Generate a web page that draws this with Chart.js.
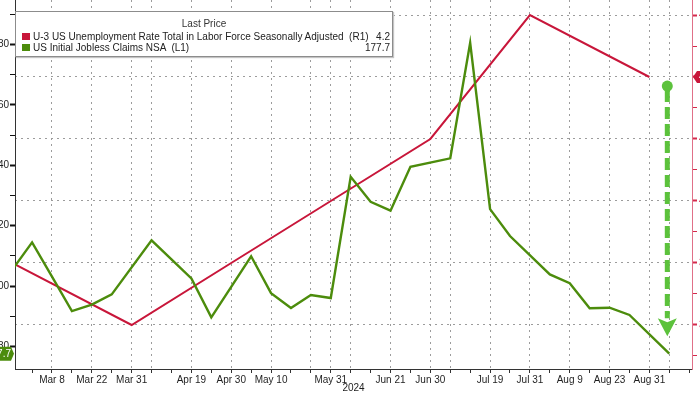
<!DOCTYPE html>
<html>
<head>
<meta charset="utf-8">
<script src="https://cdn.jsdelivr.net/npm/chart.js@4.4.1/dist/chart.umd.min.js"></script>
<style>
html,body{margin:0;padding:0;background:#fff;overflow:hidden;width:700px;height:394px;position:relative}
#c{position:absolute;left:0;top:-20px}
#leg{position:absolute;left:15px;top:11px;width:376px;height:44px;background:#fff;border:1px solid #8c8c8c;box-shadow:1px 1px 1px #c4c4c4;font-family:'Liberation Sans',Arial,sans-serif;font-size:10px;color:#222;line-height:11px}
#leg .t{position:absolute;left:0;right:0;top:6px;text-align:center;color:#333}
#leg .r{position:absolute;left:6px;right:2px;height:11px}
#leg .sq{position:absolute;left:0;top:2px;width:8px;height:7px}
#leg .n{position:absolute;left:11px;top:0;white-space:pre}
#leg .v{position:absolute;right:0;top:0}
</style>
</head>
<body>
<canvas id="c" width="700" height="414"></canvas>
<div id="leg"></div>
<script>
// ---- data ----
const categories = ['Feb 29','Mar 1','Mar 8','Mar 15','Mar 22','Mar 29','Mar 31','Apr 5','Apr 12','Apr 19','Apr 26','Apr 30','May 3','May 10','May 17','May 24','May 31','Jun 7','Jun 14','Jun 21','Jun 28','Jun 30','Jul 5','Jul 12','Jul 19','Jul 26','Jul 31','Aug 2','Aug 9','Aug 16','Aug 23','Aug 30','Aug 31','Sep 6','Sep 13'];
const labelledTicks = [2,4,6,9,11,13,16,19,21,24,26,28,30,32];
const gridTicks = [2,4,6,7,9,11,13,15,16,17,19,21,22,24,26,28,30,32,33];
const unemploymentRate = [3.9,null,null,null,null,null,3.8,null,null,null,null,3.9,null,null,null,null,4.0,null,null,null,null,4.1,null,null,null,null,4.3,null,null,null,null,null,4.2,null,null];
const joblessClaims = [205.4,214.5,203.2,191.8,193.9,197.3,null,215.2,208.9,202.6,189.7,null,209.9,197.7,192.8,197.1,196.1,236.2,227.9,225.0,239.5,null,242.3,280.5,225.5,216.6,null,203.9,201.0,192.7,192.9,190.5,null,177.7,null];
const leftTicks = [180,200,220,240,260,280];
const rightTicks = [3.8,3.9,4.0,4.1,4.2,4.3];
const seriesNames = ['U-3 US Unemployment Rate Total in Labor Force Seasonally Adjusted  (R1)','US Initial Jobless Claims NSA  (L1)'];
const lastValues = ['4.2','177.7'];
// annotation arrow (x index, from/to in claims units)
const arrowIdx = 33, arrowFrom = 266.2, arrowTo = 183.5;

const RED = '#c8163a', GREEN = '#4c8c0c', ARROW = '#5cc23c';
const FONT = "'Liberation Sans', Arial, sans-serif";

// legend
const leg = document.getElementById('leg');
leg.innerHTML = '<div class="t">Last Price</div>' +
  [RED, GREEN].map((c,i)=>'<div class="r" style="top:'+(19+i*11)+'px"><div class="sq" style="background:'+c+'"></div><div class="n">'+seriesNames[i]+'</div><div class="v">'+lastValues[i]+'</div></div>').join('');

const toPts = arr => arr.map((v,i)=>({x:i,y:v})).filter(p=>p.y!==null);
const isIn = (list, v) => list.some(t => Math.abs(t - v) < 1e-6);

const overlay = {
  id:'overlay',
  afterDatasetsDraw(chart){
    const {ctx, scales:{x, yL}} = chart;
    const ax = x.getPixelForValue(arrowIdx) - 2;
    const y1 = yL.getPixelForValue(arrowFrom), y2 = yL.getPixelForValue(arrowTo);
    ctx.save();
    ctx.strokeStyle = ARROW; ctx.fillStyle = ARROW;
    ctx.lineWidth = 5; ctx.setLineDash([12,5]);
    ctx.beginPath(); ctx.moveTo(ax, y1+4); ctx.lineTo(ax, y2-18); ctx.stroke();
    ctx.setLineDash([]);
    ctx.beginPath(); ctx.arc(ax, y1, 5.5, 0, Math.PI*2); ctx.fill();
    ctx.beginPath(); ctx.moveTo(ax-9.5, y2-18); ctx.lineTo(ax, y2-14); ctx.lineTo(ax+9.5, y2-18); ctx.lineTo(ax, y2); ctx.closePath(); ctx.fill();
    ctx.restore();
  },
  afterDraw(chart){
    const {ctx, scales:{yL, yR}, chartArea} = chart;
    ctx.save();
    // green last-value tag
    const gy = yL.getPixelForValue(177.7);
    const L = chartArea.left - 1;
    ctx.fillStyle = GREEN;
    ctx.beginPath();
    ctx.moveTo(-40, gy-7); ctx.lineTo(L-3, gy-7); ctx.lineTo(L, gy); ctx.lineTo(L-3, gy+7); ctx.lineTo(-40, gy+7); ctx.closePath(); ctx.fill();
    ctx.fillStyle = '#fff'; ctx.font = '10px ' + FONT; ctx.textAlign = 'right'; ctx.textBaseline = 'middle';
    ctx.fillText(lastValues[1], L-3, gy+0.5);
    // red last-value tag
    const ry = yR.getPixelForValue(4.2);
    const R = chartArea.right + 1;
    ctx.fillStyle = RED;
    ctx.beginPath();
    ctx.moveTo(R, ry); ctx.lineTo(R+4, ry-6); ctx.lineTo(R+40, ry-6); ctx.lineTo(R+40, ry+6); ctx.lineTo(R+4, ry+6); ctx.closePath(); ctx.fill();
    ctx.fillStyle = '#fff'; ctx.textAlign = 'left';
    ctx.fillText(lastValues[0], R+6, ry+0.5);
    ctx.restore();
  }
};

new Chart(document.getElementById('c'), {
  type: 'line',
  data: {
    datasets: [
      {label: seriesNames[1], data: toPts(joblessClaims), yAxisID:'yL', borderColor: GREEN, borderWidth: 2.4, pointRadius: 0, tension: 0, order: 0},
      {label: seriesNames[0], data: toPts(unemploymentRate), yAxisID:'yR', borderColor: RED, borderWidth: 2, pointRadius: 0, tension: 0, order: 1}
    ]
  },
  options: {
    responsive: false,
    animation: false,
    devicePixelRatio: 1,
    layout: {padding: {top: 20, left: 0, right: 0, bottom: 0}},
    plugins: {legend: {display: false}, tooltip: {enabled: false}},
    scales: {
      x: {
        type: 'linear', position: 'bottom', min: 0.142, max: 34.14,
        afterFit(s){ s.height = 25; },
        ticks: {stepSize: 1, autoSkip: false, maxRotation: 0, includeBounds: false, padding: 1, color: '#1e1e1e',
          font: {family: FONT, size: 10},
          callback: v => labelledTicks.includes(v) ? categories[v] : ''},
        grid: {drawOnChartArea: true, lineWidth: 1, tickLength: 4, tickColor: '#333', tickBorderDash: [],
          color: c => (c.tick && gridTicks.includes(c.tick.value)) ? '#9c9c9c' : 'rgba(0,0,0,0)'},
        border: {display: true, color: '#333', width: 1, dash: [2,4]},
        title: {display: true, text: '2024', color: '#1e1e1e', font: {family: FONT, size: 10}, padding: 0}
      },
      yL: {
        type: 'linear', position: 'left', min: 172.63, max: 294.65,
        afterFit(s){ s.width = 15; },
        ticks: {stepSize: 10, includeBounds: false, padding: 1, color: '#1e1e1e', font: {family: FONT, size: 10},
          callback: v => isIn(leftTicks, v) ? String(v) : ''},
        grid: {drawOnChartArea: false, tickLength: 5, tickColor: '#111',
          tickWidth: c => (c.tick && isIn(leftTicks, c.tick.value)) ? 2 : 1},
        border: {display: true, color: '#333', width: 1}
      },
      yR: {
        type: 'linear', position: 'right', min: 3.729, max: 4.3242,
        afterFit(s){ s.width = 8; },
        ticks: {stepSize: 0.05, includeBounds: false, padding: 2, color: RED, font: {family: FONT, size: 10},
          callback: v => isIn(rightTicks, v) ? v.toFixed(1) : ''},
        grid: {drawOnChartArea: true, lineWidth: 1, tickLength: 5, tickColor: '#d42a4c', tickBorderDash: [],
          tickWidth: c => (c.tick && isIn(rightTicks, c.tick.value)) ? 2 : 1,
          color: c => (c.tick && isIn(rightTicks, c.tick.value)) ? '#9c9c9c' : 'rgba(0,0,0,0)'},
        border: {display: true, color: '#e07088', width: 1, dash: [2,4]}
      }
    }
  },
  plugins: [overlay]
});
</script>
</body>
</html>
